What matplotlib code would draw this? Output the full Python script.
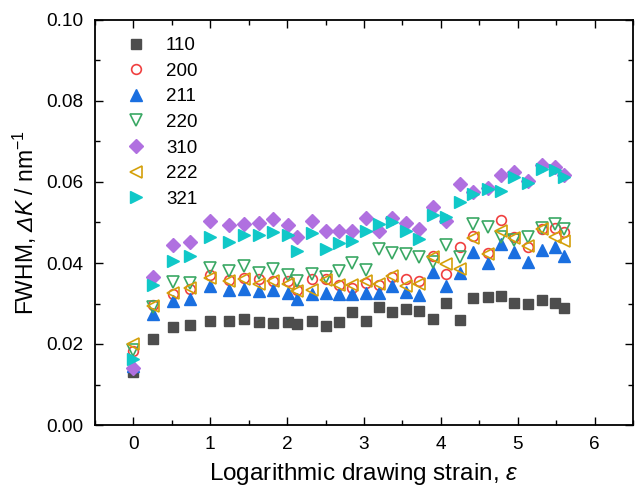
import matplotlib
matplotlib.use("Agg")
import matplotlib.pyplot as plt
from matplotlib.ticker import MultipleLocator

plt.rcParams['font.family'] = ['Liberation Sans', 'DejaVu Sans']
plt.rcParams['mathtext.fontset'] = 'custom'
plt.rcParams['mathtext.it'] = 'Liberation Sans:italic'
plt.rcParams['mathtext.sf'] = 'Liberation Sans:italic'
plt.rcParams['mathtext.rm'] = 'Liberation Sans'

strain = [0, 0.26, 0.52, 0.74, 1.0, 1.25, 1.44, 1.63, 1.81, 2.01, 2.13, 2.32, 2.51, 2.68,
          2.84, 3.02, 3.19, 3.37, 3.54, 3.71, 3.90, 4.07, 4.25, 4.42, 4.61, 4.78, 4.95,
          5.14, 5.32, 5.48, 5.60]

fwhm_110 = [0.0130, 0.0213, 0.0243, 0.0246, 0.0258, 0.0256, 0.0261, 0.0254, 0.0252, 0.0254,
            0.0249, 0.0256, 0.0244, 0.0254, 0.0278, 0.0256, 0.0292, 0.0279, 0.0286, 0.0281,
            0.0262, 0.0301, 0.0260, 0.0313, 0.0315, 0.0319, 0.0301, 0.0300, 0.0308, 0.0301,
            0.0289]
fwhm_200 = [0.0183, 0.0296, 0.0323, 0.0335, 0.0370, 0.0358, 0.0362, 0.0360, 0.0356, 0.0356,
            0.0333, 0.0360, 0.0360, 0.0346, 0.0339, 0.0351, 0.0346, 0.0366, 0.0360, 0.0355,
            0.0417, 0.0373, 0.0440, 0.0467, 0.0424, 0.0507, 0.0463, 0.0439, 0.0485, 0.0486,
            0.0477]
fwhm_211 = [0.0145, 0.0274, 0.0305, 0.0311, 0.0342, 0.0333, 0.0335, 0.0331, 0.0333, 0.0327,
            0.0310, 0.0323, 0.0327, 0.0323, 0.0323, 0.0327, 0.0325, 0.0343, 0.0328, 0.0321,
            0.0377, 0.0343, 0.0376, 0.0427, 0.0400, 0.0447, 0.0427, 0.0403, 0.0432, 0.0439,
            0.0417]
fwhm_220 = [0.0185, 0.0292, 0.0354, 0.0350, 0.0387, 0.0381, 0.0393, 0.0375, 0.0384, 0.0371,
            0.0356, 0.0373, 0.0366, 0.0381, 0.0400, 0.0383, 0.0435, 0.0424, 0.0422, 0.0414,
            0.0402, 0.0444, 0.0414, 0.0496, 0.0488, 0.0465, 0.0457, 0.0465, 0.0486, 0.0496,
            0.0483]
fwhm_310 = [0.0141, 0.0366, 0.0444, 0.0452, 0.0503, 0.0495, 0.0496, 0.0498, 0.0509, 0.0493,
            0.0463, 0.0504, 0.0479, 0.0479, 0.0478, 0.0510, 0.0479, 0.0512, 0.0498, 0.0483,
            0.0538, 0.0504, 0.0594, 0.0576, 0.0584, 0.0617, 0.0624, 0.0603, 0.0642, 0.0638,
            0.0617]
fwhm_222 = [0.0200, 0.0294, 0.0327, 0.0338, 0.0362, 0.0356, 0.0361, 0.0348, 0.0356, 0.0348,
            0.0332, 0.0333, 0.0358, 0.0346, 0.0346, 0.0355, 0.0348, 0.0368, 0.0343, 0.0348,
            0.0414, 0.0398, 0.0384, 0.0461, 0.0422, 0.0479, 0.0461, 0.0442, 0.0483, 0.0463,
            0.0455]
fwhm_321 = [0.0164, 0.0345, 0.0405, 0.0417, 0.0463, 0.0453, 0.0468, 0.0468, 0.0476, 0.0470,
            0.0430, 0.0473, 0.0434, 0.0449, 0.0454, 0.0478, 0.0496, 0.0500, 0.0480, 0.0459,
            0.0519, 0.0513, 0.0551, 0.0570, 0.0582, 0.0578, 0.0613, 0.0597, 0.0631, 0.0630,
            0.0613]

labels = ['110', '200', '211', '220', '310', '222', '321']
series = [fwhm_110, fwhm_200, fwhm_211, fwhm_220, fwhm_310, fwhm_222, fwhm_321]
styles = [
    dict(marker='s', color='#4d4d4d', filled=True, ms=6.5),
    dict(marker='o', color='#f04040', filled=False, ms=7),
    dict(marker='^', color='#1a6fe0', filled=True, ms=8),
    dict(marker='v', color='#3aa864', filled=False, ms=8),
    dict(marker='D', color='#b070e0', filled=True, ms=7),
    dict(marker='<', color='#d4a00a', filled=False, ms=8),
    dict(marker='>', color='#10c8c8', filled=True, ms=8),
]

fig = plt.figure(figsize=(6.42, 4.9), dpi=100)
ax = fig.add_axes([95/642, 1 - 425/490, (633 - 95)/642, (425 - 20)/490])

for lab, ys, st in zip(labels, series, styles):
    if st['filled']:
        ax.plot(strain, ys, linestyle='none', marker=st['marker'], ms=st['ms'],
                color=st['color'], mec=st['color'], label=lab)
    else:
        ax.plot(strain, ys, linestyle='none', marker=st['marker'], ms=st['ms'],
                mfc='none', mec=st['color'], mew=1.2, label=lab)

ax.set_xlim(-0.5, 6.5)
ax.set_ylim(0, 0.10)
ax.xaxis.set_major_locator(MultipleLocator(1))
ax.xaxis.set_minor_locator(MultipleLocator(0.5))
ax.yaxis.set_major_locator(MultipleLocator(0.02))
ax.yaxis.set_minor_locator(MultipleLocator(0.01))
ax.yaxis.set_major_formatter(plt.FuncFormatter(lambda v, p: f"{v:.2f}"))
ax.tick_params(which='both', direction='in', top=True, right=True, labelsize=13.7,
               width=1.0, colors='black')
ax.tick_params(which='major', length=6)
ax.tick_params(which='minor', length=3.5)
ax.tick_params(axis='x', pad=8)
ax.tick_params(axis='y', pad=8.5)
for sp in ax.spines.values():
    sp.set_linewidth(1.3)

ax.set_xlabel(r'Logarithmic drawing strain, $\mathit{\varepsilon}$', fontsize=17.5, labelpad=6)
ax.set_ylabel(r'FWHM, $\mathsf{Δ}\mathit{K}$ / nm$^{-1}$', fontsize=16.5, labelpad=5)

leg = ax.legend(loc='upper left', bbox_to_anchor=(0.0167, 0.99), frameon=False,
                fontsize=13.5, handletextpad=0.6, labelspacing=0.45, borderaxespad=0.3,
                borderpad=0.4, handlelength=2.0)

fig.savefig('out.png', dpi=100)
